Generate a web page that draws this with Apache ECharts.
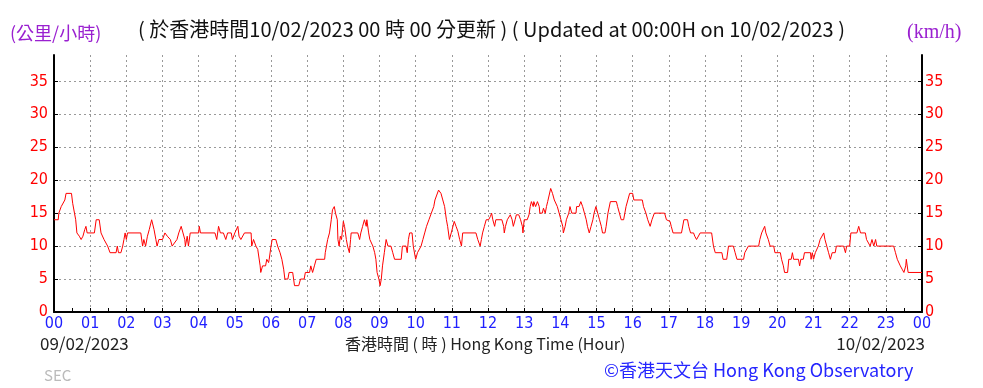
<!DOCTYPE html>
<html><head><meta charset="utf-8">
<script src="https://cdn.jsdelivr.net/npm/echarts@6/dist/echarts.min.js"></script>
<style>html,body{margin:0;padding:0;background:#fff}#c{width:983px;height:388px}</style>
</head><body><div id="c"></div>
<script>
// minutes after 00:00 (09/02/2023)
const times = [0,7,8,12,18,20,29,31,34,36,38,42,45,48,51,53,55,67,70,75,78,83,89,93,103,105,107,111,114,116,118,120,122,144,147,149,152,155,158,162,166,169,171,174,180,184,188,193,196,204,207,211,214,217,218,221,223,226,240,241,243,267,270,273,276,281,285,288,294,296,300,305,307,
310,313,316,327,328,331,335,338,342,343,346,351,353,356,357,360,362,368,371,375,378,381,383,388,390,396,399,406,409,415,417,424,426,429,432,435,449,450,452,454,457,460,462,465,467,470,471,473,475,477,480,482,485,487,490,492,493,504,507,509,512,515,518,519,522,524,529,532,534,536,539,541,543,545,548,551,554,559,562,565,576,578,584,586,588,590,594,596,600,603,609,612,615,618,622,626,630,632,635,638,640,642,645,648,651,653,656,659,662,664,667,670,673,676,678,
700,703,706,707,709,711,714,717,721,724,726,728,731,733,743,746,747,749,752,755,757,760,762,765,767,771,774,777,778,780,785,788,790,792,795,796,799,802,805,806,810,812,815,817,819,821,824,827,830,832,835,838,841,844,845,848,850,854,856,859,866,867,871,874,877,880,883,885,888,891,894,896,899,902,905,908,910,914,916,919,923,933,935,938,941,945,947,949,952,955,960,962,976,978,982,985,989,992,996,1013,1016,1022,1024,1027,1041,
1045,1051,1053,1056,1061,1063,1066,1069,1072,1091,1094,1097,1108,1110,1116,1119,1127,1130,1133,1144,1146,1152,1169,1171,1174,1177,1179,1181,1184,1185,1188,1194,1196,1205,1207,1210,1212,1217,1219,1223,1225,1227,1235,1237,1239,1243,1245,1255,1256,1258,1260,1263,1266,1268,1271,1274,1277,1279,1282,1285,1288,1291,1296,1298,1310,1313,1315,1320,1322,1332,1335,1338,1346,1348,1351,1354,1357,1360,1363,1365,1393,1396,1399,1404,1407,1410,1413,1414,1417,1440];
// wind speed, km/h
const speeds = [14,14,15,16,17,18,18,16.5,15,14,12,11.5,11,11.5,12.5,13,12,12,14,14,12,11,10,9,9,10,9,9,10,11,12,11,12,12,10,11,10,11.5,12.5,14,12.5,11,10,11,11,12,11.5,11,10,11,12,13,12,11,10,11.5,10,12,12,13,12,12,11,13,12,12,11,12,12,11,12,13,11.5,
11,11,12,12,10,11,10,9.5,7,6,7,7,8,7.5,8,10,11,11,10,9,8,6.5,5,5,6,6,4,4,5,5,6,6,7,6,7,8,8,9,10,11,12,14,15.5,16,15,14,11,10,11.5,11,13.75,13,11,10,9,11,12,12,11,12,13,14,13,14,12,11,10,9,8,6,5,4,5,7,9,11,10,10,9,8,8,10,10,9,11,12,12,10,8,9,10,11,12,13,14,15,16,17,17.75,18.5,18.75,18,17,16,14,13,11,12,12,13.75,13,12.25,11,10,12,
12,11,11,10,11,12,13,14,14,14.5,15,14,13,14,14,13,12,13,14,14,14.75,14,13,14,14.75,14.75,14,13,12,14,14,14.75,16,16.75,16,16.75,16,16.75,16,15,15,15.75,15,16,16.75,17,18.75,18,17,16.75,16,15,14,13,12,13,14,15,16,15,15,16,16,16.75,16,15,14,13,12,13,14,15,16,15,14,13,12,12,13,15,16.75,16.75,16,15,14,14,15,16,17,18,18,17,17,16,15,14,13,14,15,15,14,13.75,13,12,12,
14,14,13,12,12,11.5,11,11,12,12,10,9,9,8,8,10,10,9,8,8,9,10,10,11,12,12,13,12,12,11,10,10,9,9,8,7,6,6,8,8,9,8,8,7,8,8,9,9,8,9,8,9,9,10,11,11,12,11,10,9,8,9,9,10,10,9,10,10,12,12,13,12,12,11,10.75,10,11,10,11,10,10,9,8,7,6.5,6,7,8,6,6];
const hourLabels = ['00','01','02','03','04','05','06','07','08','09','10','11','12','13','14','15','16','17','18','19','20','21','22','23','00'];
const yTicks = [0,5,10,15,20,25,30,35];

const chart = echarts.init(document.getElementById('c'), null, {renderer:'canvas'});
const data = times.map((t,i)=>[t,speeds[i]]);
const numFont = "'Liberation Sans Narrow','DejaVu Sans Condensed','Liberation Sans',sans-serif";
const txtFont = "'Noto Sans CJK TC','Noto Sans',sans-serif";
const yAxisCommon = {
  type:'value', min:0, max:39, interval:5,
  axisLine:{show:true, lineStyle:{color:'#000', width:2}},
  axisTick:{show:true, inside:true, length:4, customValues:yTicks, lineStyle:{color:'#000'}},
  axisLabel:{customValues:yTicks, color:'#ff0000', fontSize:16, fontFamily:numFont},
};
chart.setOption({
  animation:false,
  backgroundColor:'#fff',
  grid:{left:54, right:61, top:55, bottom:76},
  xAxis:{
    type:'value', min:0, max:1440, interval:60,
    axisLine:{show:true, onZero:false, lineStyle:{color:'#000', width:2}},
    axisTick:{show:true, inside:true, length:4, lineStyle:{color:'#000'}},
    minorTick:{show:true, splitNumber:2, length:4, lineStyle:{color:'#000'}},
    axisLabel:{color:'#2020ff', fontSize:16, fontFamily:numFont, margin:4,
      formatter:(v)=>hourLabels[Math.round(v/60)]},
    splitLine:{show:true, lineStyle:{color:'#999', type:[2,3], width:1}}
  },
  yAxis:[
    Object.assign({}, yAxisCommon, {position:'left',
      axisLabel:Object.assign({}, yAxisCommon.axisLabel, {margin:6}),
      splitLine:{show:true, lineStyle:{color:'#999', type:[2,3], width:1}}}),
    Object.assign({}, yAxisCommon, {position:'right',
      axisLabel:Object.assign({}, yAxisCommon.axisLabel, {margin:3}),
      splitLine:{show:false}})
  ],
  series:[{
    type:'line', data:data, showSymbol:false, symbol:'none',
    lineStyle:{color:'#ff0000', width:1}, z:5
  }],
  graphic:[
    {type:'text', left:10, top:24, style:{text:'(公里/小時)', fill:'#9a20d0', font:"18px "+txtFont}},
    {type:'text', left:907, top:23, style:{text:'(km/h)', fill:'#9a20d0', font:"20px 'Liberation Serif',serif"}},
    {type:'text', left:'center', top:19, style:{text:'( 於香港時間10/02/2023 00 時 00 分更新 ) ( Updated at 00:00H on 10/02/2023 )', fill:'#111', font:"20px "+txtFont}},
    {type:'text', left:40, top:335, style:{text:'09/02/2023', fill:'#222', font:"17px "+txtFont}},
    {type:'text', left:345, top:336, style:{text:'香港時間 ( 時 ) Hong Kong Time (Hour)', fill:'#222', font:"16px "+txtFont}},
    {type:'text', right:58, top:335, style:{text:'10/02/2023', fill:'#222', font:"17px "+txtFont}},
    {type:'text', left:44, top:368, style:{text:'SEC', fill:'#bbb', font:"15px "+txtFont}},
    {type:'text', left:604, top:361, style:{text:'©香港天文台 Hong Kong Observatory', fill:'#2525ff', font:"18px "+txtFont}}
  ]
});
</script></body></html>
